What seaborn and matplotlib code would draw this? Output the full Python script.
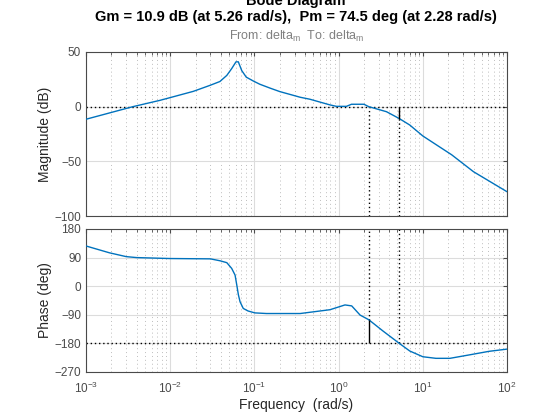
import matplotlib
matplotlib.use("Agg")
import matplotlib.pyplot as plt
import numpy as np
import pandas as pd
import seaborn as sns
from matplotlib.ticker import LogLocator, NullFormatter, FixedLocator

# magnitude curve
freq_mag = [0.001, 0.0036, 0.00757, 0.01, 0.0188, 0.0297, 0.0389, 0.047, 0.0537,
            0.0604, 0.0644, 0.0707, 0.08, 0.0968, 0.116, 0.153, 0.2, 0.35, 0.456,
            0.79, 0.94, 1.24, 1.42, 2.0, 2.28, 3.7, 5.26, 7.0, 10, 22, 40, 100]
mag_db = [-11.5, 0, 5.8, 8.3, 14, 19.5, 23, 28.6, 34.8,
          41, 41, 33, 27, 23.5, 20.5, 17, 13.8, 8.6, 6.8,
          1.6, 0.3, 0.3, 2.2, 2.2, 0, -4.6, -10.9, -16.8, -26.8, -44, -59.5, -77.8]

# phase curve
freq_ph = [0.001, 0.0019, 0.003, 0.004, 0.01, 0.03, 0.039, 0.047, 0.0537, 0.0589,
           0.0617, 0.0645, 0.0675, 0.0737, 0.084, 0.101, 0.139, 0.35, 0.79, 1.19,
           1.43, 1.8, 2.28, 3.4, 5.26, 7.0, 10, 14.3, 21, 36, 61, 100]
phase_deg = [126.5, 105, 93, 90, 87, 86, 80, 74, 56, 35,
             4, -27, -49, -70, -78, -84, -86, -86, -74, -59,
             -62, -91, -105.5, -142, -180, -204, -222, -227, -227, -216, -205, -198]

# stability margins
gm_db, gm_freq = 10.9, 5.26
pm_deg, pm_freq = 74.5, 2.28

sns.set_style("white")
plt.rcParams['font.family'] = ['Liberation Sans', 'DejaVu Sans']
plt.rcParams['mathtext.fontset'] = 'custom'
plt.rcParams['mathtext.rm'] = 'Liberation Sans'
plt.rcParams['mathtext.it'] = 'Liberation Sans'

AX_COL = '#262626'
TICK_COL = '#4a4a4a'
BLUE = '#0072BD'
DOT = (0, (1, 2))

fig = plt.figure(figsize=(5.6, 4.2), dpi=100)
ax1 = fig.add_axes([0.1536, 0.4857, 0.7518, 0.3905])
ax2 = fig.add_axes([0.1536, 0.1143, 0.7518, 0.3405])

df_mag = pd.DataFrame({"w": freq_mag, "mag": mag_db})
df_ph = pd.DataFrame({"w": freq_ph, "phase": phase_deg})
sns.lineplot(data=df_mag, x="w", y="mag", ax=ax1, color=BLUE, lw=1.0, zorder=3)
sns.lineplot(data=df_ph, x="w", y="phase", ax=ax2, color=BLUE, lw=1.0, zorder=3)

for ax in (ax1, ax2):
    ax.set_xscale('log')
    ax.set_xlim(1e-3, 1e2)
    ax.xaxis.set_major_locator(LogLocator(base=10, numticks=10))
    ax.xaxis.set_minor_locator(LogLocator(base=10, subs=np.arange(2, 10), numticks=20))
    ax.xaxis.set_minor_formatter(NullFormatter())
    ax.grid(which='major', color='#dcdcdc', lw=0.8, ls='-')
    ax.grid(which='minor', axis='x', color='#bdbdbd', lw=0.7, ls=(0, (1, 3)))
    ax.set_axisbelow(True)
    ax.tick_params(which='both', direction='in', top=True, right=True,
                   colors=TICK_COL, labelsize=8.5, length=3)
    ax.tick_params(which='minor', length=2)
    for s in ax.spines.values():
        s.set_color(TICK_COL)
        s.set_linewidth(0.8)

ax1.set_ylim(-100, 50)
ax1.yaxis.set_major_locator(FixedLocator([-100, -50, 0, 50]))
ax1.set_xticklabels([])
ax1.set_xlabel('')
ax1.set_ylabel('Magnitude (dB)', fontsize=10, color=AX_COL, labelpad=2)

ax2.set_ylim(-270, 180)
ax2.yaxis.set_major_locator(FixedLocator([-270, -180, -90, 0, 90, 180]))
ax2.set_xlabel('Frequency  (rad/s)', fontsize=10, color=AX_COL, labelpad=2)
ax2.set_ylabel('Phase (deg)', fontsize=10, color=AX_COL, labelpad=2)
ax2.tick_params(axis='x', pad=6)

# margin markers
ax1.axhline(0, color='k', lw=1, ls=DOT, zorder=2)
ax1.vlines([pm_freq, gm_freq], -100, 0, color='k', lw=1, ls=DOT, zorder=2)
ax1.vlines(gm_freq, -gm_db, 0, color='k', lw=1, zorder=4)
ax2.axhline(-180, color='k', lw=1, ls=DOT, zorder=2)
ax2.vlines(pm_freq, -180 + pm_deg, 180, color='k', lw=1, ls=DOT, zorder=2)
ax2.vlines(gm_freq, -180, 180, color='k', lw=1, ls=DOT, zorder=2)
ax2.vlines(pm_freq, -180, -180 + pm_deg, color='k', lw=1, zorder=4)

fig.text(0.529, 0.989, 'Bode Diagram', ha='center', va='baseline',
         fontsize=10.5, fontweight='bold', color='k')
fig.text(0.529, 0.951, f'Gm = {gm_db} dB (at {gm_freq} rad/s),  Pm = {pm_deg} deg (at {pm_freq} rad/s)',
         ha='center', va='baseline', fontsize=10.5, fontweight='bold', color='k')
fig.text(0.529, 0.905, r'From: delta$_{\mathregular{m}}$  To: delta$_{\mathregular{m}}$',
         ha='center', va='baseline', fontsize=9, color='#808080')

fig.savefig('out.png', dpi=100)
